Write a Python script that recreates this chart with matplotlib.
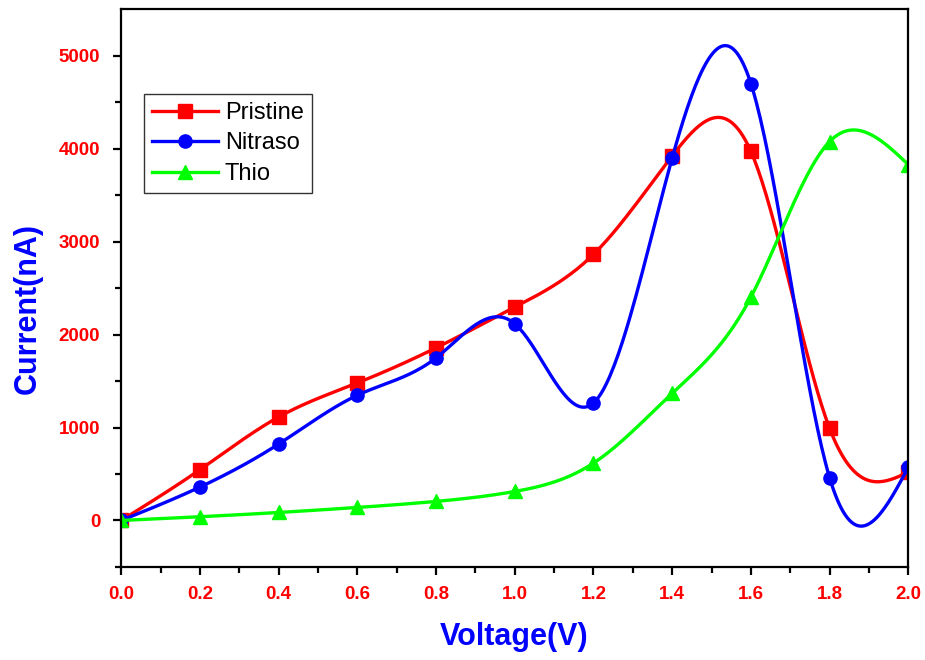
import numpy as np
import matplotlib
matplotlib.use('Agg')
import matplotlib.pyplot as plt

voltage = [0.0, 0.2, 0.4, 0.6, 0.8, 1.0, 1.2, 1.4, 1.6, 1.8, 2.0]
pristine = [0, 546, 1113, 1480, 1857, 2295, 2863, 3922, 3970, 990, 520]
nitraso = [0, 359, 822, 1347, 1749, 2116, 1264, 3900, 4700, 459, 574]
thio = [0, 40, 86, 140, 205, 312, 617, 1368, 2403, 4077, 3827]

x_ticks = [0.0, 0.2, 0.4, 0.6, 0.8, 1.0, 1.2, 1.4, 1.6, 1.8, 2.0]
y_ticks = [0, 1000, 2000, 3000, 4000, 5000]


def spline(x, y, n=400):
    # natural cubic spline, just for the smooth connecting line
    x = np.asarray(x, float)
    y = np.asarray(y, float)
    k = len(x)
    h = np.diff(x)
    A = np.zeros((k, k))
    b = np.zeros(k)
    A[0, 0] = A[-1, -1] = 1
    for i in range(1, k - 1):
        A[i, i - 1] = h[i - 1]
        A[i, i] = 2 * (h[i - 1] + h[i])
        A[i, i + 1] = h[i]
        b[i] = 6 * ((y[i + 1] - y[i]) / h[i] - (y[i] - y[i - 1]) / h[i - 1])
    m = np.linalg.solve(A, b)
    xs = np.linspace(x[0], x[-1], n)
    j = np.clip(np.searchsorted(x, xs) - 1, 0, k - 2)
    t0 = xs - x[j]
    t1 = x[j + 1] - xs
    hj = h[j]
    ys = (m[j] * t1**3 + m[j + 1] * t0**3) / (6 * hj) \
        + (y[j] / hj - m[j] * hj / 6) * t1 \
        + (y[j + 1] / hj - m[j + 1] * hj / 6) * t0
    return xs, ys


plt.rcParams['font.family'] = ['Liberation Sans', 'DejaVu Sans']

fig = plt.figure(figsize=(9.25, 6.6), dpi=100)
ax = fig.add_axes([0.131, 0.141, 0.851, 0.845])

series = [(pristine, '#ff0000', 's', 'Pristine'),
          (nitraso, '#0000ff', 'o', 'Nitraso'),
          (thio, '#00ff00', '^', 'Thio')]

for vals, col, mk, name in series:
    xs, ys = spline(voltage, vals)
    ax.plot(xs, ys, color=col, lw=2.4)
    ax.plot(voltage, vals, mk, color=col, ms=9.5)
    ax.plot([], [], color=col, lw=2.4, marker=mk, ms=9.5, label=name)

ax.set_xlim(0, 2.0)
ax.set_ylim(-500, 5500)
ax.set_xticks(x_ticks)
ax.set_xticks(np.arange(0.1, 2.0, 0.2), minor=True)
ax.set_yticks(y_ticks)
ax.set_yticks(np.arange(-500, 5500, 1000), minor=True)
ax.set_xticklabels(['%.1f' % v for v in x_ticks])

for s in ax.spines.values():
    s.set_linewidth(1.6)
ax.tick_params(which='major', direction='out', length=6, width=1.6,
               labelsize=13.5, labelcolor='#ff0000')
ax.tick_params(axis='x', which='major', pad=8)
ax.tick_params(axis='y', which='major', pad=9)
ax.tick_params(which='minor', direction='out', length=4, width=1.6)
for lab in ax.get_xticklabels() + ax.get_yticklabels():
    lab.set_fontweight('bold')

ax.set_xlabel('Voltage(V)', fontsize=22, fontweight='bold', color='#0000ff')
ax.set_ylabel('Current(nA)', fontsize=22, fontweight='bold', color='#0000ff')
ax.xaxis.set_label_coords(0.499, -0.099)
ax.yaxis.set_label_coords(-0.100, 0.464)

leg = ax.legend(loc='upper left', bbox_to_anchor=(0.029, 0.848), borderaxespad=0,
                fontsize=17, frameon=True, fancybox=False, edgecolor='black',
                handlelength=2.8, labelspacing=0.36, borderpad=0.33, handletextpad=0.3)
leg.get_frame().set_linewidth(1.0)

fig.savefig('out.png', dpi=100, facecolor='white')
